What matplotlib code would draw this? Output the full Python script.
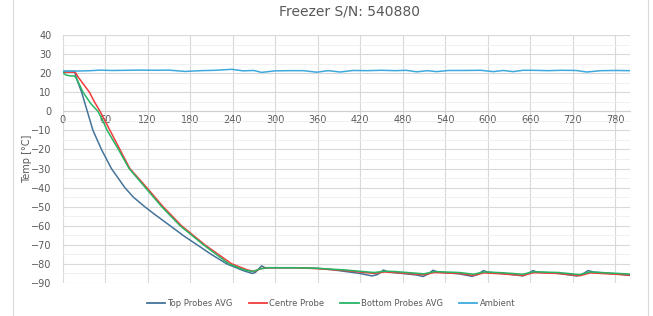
import matplotlib
matplotlib.use("Agg")
import matplotlib.pyplot as plt
from matplotlib.lines import Line2D
from matplotlib.ticker import MultipleLocator

# ---- data (minutes, °C) ----
top_t = [0, 5, 10, 17, 20, 27, 35, 43, 55, 69, 88, 100, 116, 130, 152, 170, 190, 210, 232,
         255, 268, 272, 276, 281, 286, 300, 330, 360, 380, 400, 420, 437, 445, 453, 460,
         480, 500, 509, 516, 523, 530, 560, 578, 586, 594, 600, 620, 640, 650, 657, 664,
         670, 700, 726, 734, 742, 750, 780, 800]
top_v = [21, 21, 21, 21, 17, 10, 0, -10, -20, -30, -40, -45, -50, -54, -60, -65, -70, -75, -80,
         -83.5, -85, -84.5, -83, -81, -82, -82, -82, -82.3, -83, -84, -85, -86.3, -85.5, -83.2, -84.3,
         -85, -85.8, -86.6, -85.3, -83.3, -84.3, -85.2, -86.5, -85.6, -83.5, -84.3, -85, -85.8, -86.3, -85, -83.5,
         -84.3, -85, -86.3, -85.3, -83.5, -84.3, -85.2, -86]

centre_t = [0, 10, 18, 22, 30, 38, 45, 53, 60, 67, 74, 81, 95, 119, 142, 168, 201, 239, 260, 270,
            280, 290, 330, 360, 400, 440, 455, 470, 510, 525, 560, 580, 595, 620, 650, 665, 700,
            730, 745, 770, 800]
centre_v = [20.5, 20.5, 20.5, 18, 14, 10, 5, 0, -5, -10, -15, -20, -30, -40, -50, -60, -70, -80, -83, -84,
            -82.5, -82, -82, -82.5, -83.5, -85, -84.2, -84.5, -85.7, -84.5, -85, -86, -84.7, -85.2, -86, -84.6, -85,
            -86.2, -84.7, -85.2, -85.8]

bottom_t = [0, 5, 10, 17, 20, 29, 40, 50, 57, 63, 71, 79, 94, 117, 140, 166, 199, 235, 255, 268,
            280, 290, 330, 360, 400, 440, 455, 470, 510, 525, 560, 580, 595, 620, 650, 665, 700,
            730, 745, 770, 800]
bottom_v = [20.5, 19, 18.6, 18.5, 17, 10, 4, 0, -5, -10, -15, -20, -30, -40, -50, -60, -70, -80, -83, -84,
            -82.5, -82, -82, -82.3, -83.2, -84.5, -83.8, -84, -85.2, -84, -84.5, -85.4, -84.2, -84.6, -85.4, -84.1, -84.5,
            -85.6, -84.2, -84.7, -85.3]

amb_t = [0, 20, 40, 53, 70, 90, 110, 130, 150, 173, 195, 215, 239, 255, 270, 281, 300, 320,
         340, 359, 375, 392, 410, 430, 450, 470, 485, 500, 515, 528, 545, 565, 590, 608, 622,
         636, 650, 664, 685, 705, 725, 740, 760, 780, 800]
amb_v = [21.0, 21.1, 21.3, 21.6, 21.4, 21.5, 21.6, 21.5, 21.6, 20.9, 21.3, 21.5, 22.0, 21.2, 21.4, 20.4, 21.2, 21.3,
         21.3, 20.5, 21.3, 20.6, 21.4, 21.3, 21.5, 21.3, 21.5, 20.7, 21.3, 20.8, 21.4, 21.4, 21.5, 20.8, 21.4,
         20.8, 21.5, 21.5, 21.3, 21.5, 21.4, 20.6, 21.3, 21.4, 21.3]

series_names = ["Top Probes AVG", "Centre Probe", "Bottom Probes AVG", "Ambient"]
series_colors = ["#44739A", "#F23B3B", "#27B463", "#3FA9DD"]

x_ticks = list(range(0, 781, 60))
y_ticks = list(range(-90, 41, 10))

# ---- figure ----
fig = plt.figure(figsize=(6.53, 3.16), dpi=100)
ax = fig.add_axes([62.5 / 653, 1 - 283 / 316, (630 - 62.5) / 653, (283 - 35) / 316])

data = [(top_t, top_v), (centre_t, centre_v), (bottom_t, bottom_v), (amb_t, amb_v)]
for i, (t, v) in enumerate(data):
    ax.plot(t, v, color=series_colors[i], lw=1.1, zorder=3 + i * 0.1)

ax.set_xlim(0, 801)
ax.set_ylim(-90, 40)
ax.set_xticks(x_ticks)
ax.set_yticks(y_ticks)
ax.yaxis.set_minor_locator(MultipleLocator(5))
ax.grid(which="major", color="#D9D9D9", lw=0.8, zorder=0)
ax.grid(which="minor", axis="y", color="#EEEEEE", lw=0.6, zorder=0)
ax.set_axisbelow(True)

for s in ["top", "right", "left"]:
    ax.spines[s].set_visible(False)
ax.spines["bottom"].set_position(("data", 0))
ax.spines["bottom"].set_color("#D0D0D0")
ax.spines["bottom"].set_linewidth(0.8)

ax.tick_params(axis="both", which="both", length=0, labelsize=7, labelcolor="#595959")
ax.tick_params(axis="x", pad=3)
ax.tick_params(axis="y", pad=8)
ax.set_ylabel("Temp [°C]", fontsize=7, color="#595959")
ax.yaxis.set_label_coords((32 - 62.5) / 567.5, 0.5)

fig.suptitle("Freezer S/N: 540880", x=0.535, y=0.985, fontsize=10, color="#595959")

handles = [Line2D([0], [0], color=c, lw=1.3) for c in series_colors]
fig.legend(handles, series_names, loc="center", bbox_to_anchor=(331 / 653, 1 - 303 / 316),
           ncol=4, frameon=False, fontsize=6, labelcolor="#595959",
           handlelength=2.2, handletextpad=0.3, columnspacing=1.9)

# chart area border lines
fig.add_artist(Line2D([13 / 653, 13 / 653], [0, 1], color="#D9D9D9", lw=0.8))
fig.add_artist(Line2D([648 / 653, 648 / 653], [0, 1], color="#D9D9D9", lw=0.8))

fig.savefig("out.png", dpi=100)
